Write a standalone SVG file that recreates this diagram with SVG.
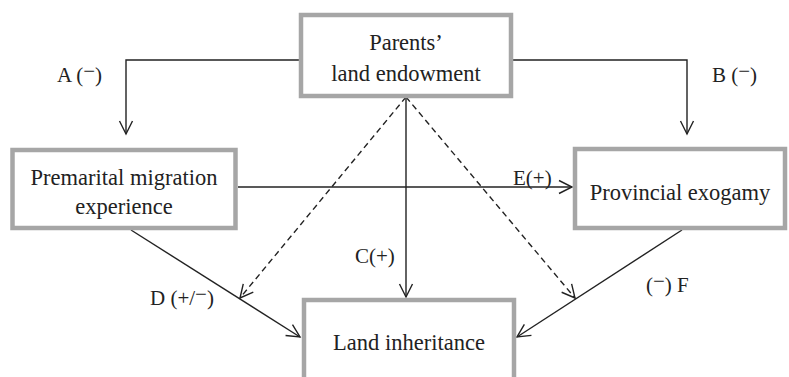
<svg xmlns="http://www.w3.org/2000/svg" width="789" height="377" viewBox="0 0 789 377">
<style>
.box{fill:#fff;stroke:#a6a6a6;stroke-width:4.5}
.t{font-family:"Liberation Serif","Times New Roman",serif;font-size:22.5px;fill:#222}
.l{font-family:"Liberation Serif","Times New Roman",serif;font-size:21px;fill:#222}
.c{fill:none;stroke:#222;stroke-width:1.4}
.d{stroke-dasharray:6 4}
</style>
<defs>
<marker id="ah" markerUnits="userSpaceOnUse" markerWidth="16" markerHeight="16" viewBox="-14 -8 16 16" refX="0" refY="0" orient="auto">
<path d="M-13,-6.5 L0,0 L-13,6.5" fill="none" stroke="#222" stroke-width="1.4"/>
</marker>
</defs>
<rect width="789" height="377" fill="#fff"/>
<g id="connectors">
<path class="c" d="M301,60 H126 V134" marker-end="url(#ah)"/>
<path class="c" d="M511,60 H687 V134" marker-end="url(#ah)"/>
<path class="c" d="M406,97 V297" marker-end="url(#ah)"/>
<path class="c" d="M238,187 H572" marker-end="url(#ah)"/>
<path class="c d" d="M406,97 L240,298" marker-end="url(#ah)"/>
<path class="c d" d="M406,97 L575,298" marker-end="url(#ah)"/>
<path class="c" d="M131,230 L300,337" marker-end="url(#ah)"/>
<path class="c" d="M682,230 L517,337" marker-end="url(#ah)"/>
</g>
<g id="parents">
<rect class="box" x="301" y="15" width="210" height="81"/>
<text class="t" x="406" y="50" text-anchor="middle">Parents’</text>
<text class="t" x="406" y="81" text-anchor="middle">land endowment</text>
</g>
<g id="premarital">
<rect class="box" x="12.5" y="150" width="223" height="78"/>
<text class="t" x="124" y="185" text-anchor="middle">Premarital migration</text>
<text class="t" x="124" y="214" text-anchor="middle">experience</text>
</g>
<g id="exogamy">
<rect class="box" x="575" y="149" width="210" height="79"/>
<text class="t" x="680" y="200" text-anchor="middle">Provincial exogamy</text>
</g>
<g id="inheritance">
<rect class="box" x="304" y="300" width="210" height="95"/>
<text class="t" x="409" y="350" text-anchor="middle">Land inheritance</text>
</g>
<g id="labels">
<text class="l" x="57" y="82">A (<tspan dy="-4">−</tspan><tspan dy="4">)</tspan></text>
<text class="l" x="712" y="82">B (<tspan dy="-4">−</tspan><tspan dy="4">)</tspan></text>
<text class="l" x="355" y="263">C(+)</text>
<text class="l" x="513" y="185">E(+)</text>
<text class="l" x="150" y="305">D (+/<tspan dy="-4">−</tspan><tspan dy="4">)</tspan></text>
<text class="l" x="646" y="292">(<tspan dy="-4">−</tspan><tspan dy="4">) F</tspan></text>
</g>
</svg>
